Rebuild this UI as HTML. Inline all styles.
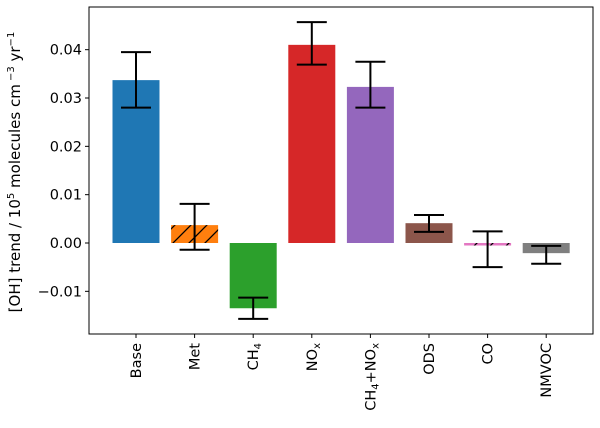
<!DOCTYPE html>
<html><head><meta charset="utf-8"><style>
body{margin:0;background:#fff;font-family:"Liberation Sans","DejaVu Sans",sans-serif}
svg text{font-family:"DejaVu Sans","Liberation Sans",sans-serif;font-size:14.5px;fill:#000}
</style></head><body>
<svg id="chart" width="600" height="423" xmlns="http://www.w3.org/2000/svg">
<defs><pattern id="hatch" patternUnits="userSpaceOnUse" width="16" height="16"><path d="M-4,20 L20,-4 M-4,4 L4,-4 M12,20 L20,12" stroke="#000" stroke-width="1.3"/></pattern></defs>
<g id="plot"></g>
<text transform="translate(20,172) rotate(-90)" text-anchor="middle" style="font-size:15px">[OH] trend / 10<tspan dy="-6" style="font-size:10px">5</tspan><tspan dy="6"> molecules cm</tspan><tspan dy="-6" style="font-size:10px"> −3</tspan><tspan dy="6"> yr</tspan><tspan dy="-6" style="font-size:10px">−1</tspan></text>
</svg>
<script>
const categories=["Base","Met","CH4","NOx","CH4+NOx","ODS","CO","NMVOC"];
const values=[0.0337,0.0037,-0.0135,0.041,0.0323,0.0041,-0.0004,-0.0021];
const errHigh=[0.0395,0.0081,-0.0113,0.0457,0.0375,0.0058,0.0024,-0.0006];
const errLow=[0.028,-0.0014,-0.0157,0.0369,0.028,0.0023,-0.005,-0.0043];
const colors=["#1f77b4","#ff7f0e","#2ca02c","#d62728","#9467bd","#8c564b","#e377c2","#7f7f7f"];
const yTicks=[-0.01,0,0.01,0.02,0.03,0.04];
const yTickLabels=["−0.01","0.00","0.01","0.02","0.03","0.04"];
const L=89,R=593,T=7,B=334;
const y=v=>243-v*4833;
const step=58.6, x=i=>136+i*step, bw=47;
const g=document.getElementById('plot');
const NS="http://www.w3.org/2000/svg";
function mk(t,a){const e=document.createElementNS(NS,t);for(const k in a)e.setAttribute(k,a[k]);g.appendChild(e);return e;}
values.forEach((v,i)=>{
  const y0=Math.min(y(0),y(v)),h=Math.max(Math.abs(y(v)-y(0)),2.5);
  const r=mk('rect',{x:x(i)-bw/2,y:y0,width:bw,height:h,fill:colors[i]});
  
  
  if(categories[i]==="Met"||categories[i]==="CO"){
    const hr=mk('rect',{x:x(i)-bw/2,y:y0,width:bw,height:h,fill:'url(#hatch)'});
    
    
  }
});
values.forEach((v,i)=>{
  const e=mk('path',{d:`M${x(i)},${y(errHigh[i])}V${y(errLow[i])}M${x(i)-15},${y(errHigh[i])}h30M${x(i)-15},${y(errLow[i])}h30`,stroke:'#000','stroke-width':2,fill:'none'});
  
  
});
const ax=mk('rect',{x:L,y:T,width:R-L,height:B-T,fill:'none',stroke:'#000','stroke-width':1});


yTicks.forEach((t,i)=>{
  mk('line',{x1:L-4,x2:L,y1:y(t),y2:y(t),stroke:'#000'});
  const tx=mk('text',{x:L-7,y:y(t)+5,'text-anchor':'end'});tx.textContent=yTickLabels[i];
  
  
});
const labelHTML={"CH4":'CH<tspan dy="3" style="font-size:10px">4</tspan>',"NOx":'NO<tspan dy="3" style="font-size:10px">x</tspan>',"CH4+NOx":'CH<tspan dy="3" style="font-size:10px">4</tspan><tspan dy="-3">+NO</tspan><tspan dy="3" style="font-size:10px">x</tspan>'};
categories.forEach((c,i)=>{
  mk('line',{x1:x(i),x2:x(i),y1:B,y2:B+4,stroke:'#000'});
  const tx=mk('text',{transform:`translate(${x(i)+5},${B+9}) rotate(-90)`,'text-anchor':'end'});
  tx.innerHTML=labelHTML[c]||c;
  
  
});
</script>
</body></html>
